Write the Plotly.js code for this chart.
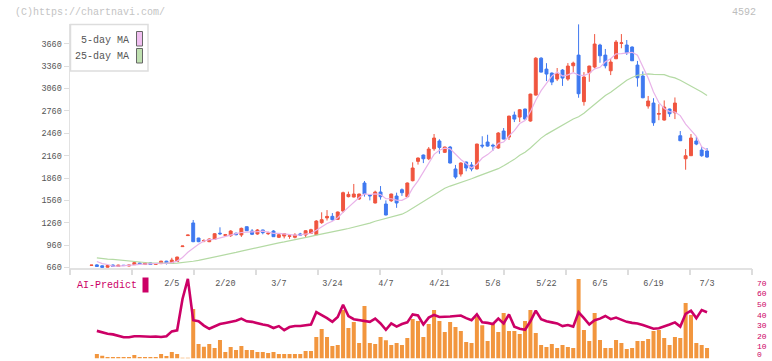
<!DOCTYPE html>
<html><head><meta charset="utf-8">
<script src="https://cdn.plot.ly/plotly-3.0.1.min.js"></script>
<style>html,body{margin:0;padding:0;background:#fff;}#chart{width:772px;height:361px;}</style>
</head><body><div id="chart"></div>
<script>
const dates = ["1/15","1/16","1/17","1/20","1/21","1/22","1/23","1/24","1/27","1/28","1/29","1/30","1/31","2/3","2/4","2/5","2/6","2/7","2/10","2/12","2/13","2/14","2/17","2/18","2/19","2/20","2/21","2/25","2/26","2/27","2/28","3/3","3/4","3/5","3/6","3/7","3/10","3/11","3/12","3/13","3/14","3/17","3/18","3/19","3/21","3/24","3/25","3/26","3/27","3/28","3/31","4/1","4/2","4/3","4/4","4/7","4/8","4/9","4/10","4/11","4/14","4/15","4/16","4/17","4/18","4/21","4/22","4/23","4/24","4/25","4/28","4/30","5/1","5/2","5/7","5/8","5/9","5/12","5/13","5/14","5/15","5/16","5/19","5/20","5/21","5/22","5/23","5/26","5/27","5/28","5/29","5/30","6/2","6/3","6/4","6/5","6/6","6/9","6/10","6/11","6/12","6/13","6/16","6/17","6/18","6/19","6/20","6/23","6/24","6/25","6/26","6/27","6/30","7/1","7/2","7/3"];

const open = [688,695,683,664,693,674,690,680,698,720,
700,722,703,712,745,715,740,940,1088,1257,
1055,1015,1006,1038,1120,1090,1086,1118,1096,1207,
1149,1109,1163,1113,1149,1065,1082,1078,1065,1110,
1096,1118,1100,1261,1325,1346,1306,1417,1610,1605,
1580,1793,1632,1525,1672,1511,1555,1618,1703,1609,
1824,2083,2168,2118,2252,2356,2204,2275,1981,1913,
2074,2034,1981,2300,2342,2300,2262,2490,2409,2704,
2677,2785,2624,2972,3467,3320,3267,3187,3307,3187,
3365,3508,2884,3271,3348,3643,3508,3298,3459,3665,
3643,3616,3374,3227,2825,2865,2715,2637,2785,2735,
2427,2118,2159,2356,2235,2222];
const high = [694,705,688,690,700,697,694,697,730,726,
728,727,712,750,750,790,805,950,1098,1297,
1058,1039,1050,1120,1199,1110,1160,1130,1195,1210,
1175,1175,1167,1140,1160,1105,1118,1090,1120,1125,
1160,1180,1295,1400,1430,1390,1410,1677,1677,1780,
1650,1820,1645,1690,1752,1560,1650,1663,1720,1800,
2070,2135,2175,2275,2450,2380,2280,2290,2035,2070,
2080,2074,2320,2420,2440,2320,2475,2530,2695,2750,
2785,2790,2990,3480,3480,3400,3275,3335,3320,3401,
3420,3920,3280,3365,3790,3660,3590,3460,3710,3790,
3710,3625,3430,3290,2960,2930,2850,2900,2790,2940,
2490,2248,2450,2410,2275,2262];
const low = [686,668,655,660,672,670,682,676,695,706,
697,696,699,706,700,710,735,938,1085,1000,
1000,999,1000,1030,1095,1080,1070,1090,1070,1150,
1095,1100,1105,1095,1070,1055,1050,1045,1050,1090,
1060,1110,1095,1245,1290,1290,1300,1395,1600,1600,
1565,1610,1560,1520,1570,1360,1540,1460,1620,1600,
1815,2040,2060,2100,2225,2185,2195,2055,1850,1880,
1950,1950,1975,2260,2280,2225,2250,2378,2370,2610,
2610,2645,2615,2965,3275,3160,3105,3160,3095,3164,
3280,2936,2830,3150,3330,3405,3330,3240,3455,3600,
3510,3430,3085,2930,2790,2560,2635,2630,2680,2650,
2355,1971,2155,2300,2145,2132];
const close = [692,675,662,686,676,692,686,692,725,710,
722,700,708,745,715,760,800,948,1095,1006,
1006,1022,1042,1113,1113,1100,1149,1100,1185,1153,
1105,1163,1127,1120,1073,1100,1113,1085,1096,1095,
1153,1167,1283,1301,1345,1301,1404,1663,1640,1645,
1645,1645,1622,1672,1609,1364,1645,1525,1663,1793,
1994,2128,2118,2248,2396,2270,2275,2061,1873,2061,
1994,1981,2315,2290,2288,2290,2463,2382,2690,2650,
2775,2650,2985,3467,3280,3254,3146,3254,3200,3361,
3401,2990,3214,3361,3656,3499,3365,3415,3683,3672,
3539,3432,3204,2936,2892,2601,2725,2811,2722,2865,
2360,2159,2396,2315,2159,2141];
const ma5 = [null,740,712,700,678,678,680,686,694,701,
707,710,713,717,720,726,746,794,864,922,
971,1015,1034,1038,1059,1078,1103,1115,1129,1137,
1138,1141,1147,1134,1118,1117,1107,1098,1093,1098,
1108,1119,1159,1200,1250,1279,1327,1403,1471,1531,
1599,1648,1639,1646,1639,1582,1582,1563,1561,1598,
1724,1821,1939,2056,2177,2232,2261,2250,2175,2108,
2053,1994,2045,2128,2174,2233,2325,2343,2423,2495,
2590,2629,2750,2903,3031,3127,3226,3280,3227,3243,
3272,3241,3233,3265,3324,3344,3419,3459,3524,3527,
3535,3545,3506,3357,3200,3013,2872,2793,2750,2745,
2697,2583,2500,2419,2278,2234];
const ma25 = [null,790,778,772,768,760,754,745,738,732,
727,723,720,718,717,716,718,724,733,744,
756,770,785,800,815,830,845,862,880,897,
913,930,946,960,975,990,1003,1016,1030,1045,
1060,1078,1093,1106,1120,1133,1150,1167,1183,1200,
1218,1238,1256,1280,1300,1318,1335,1352,1375,1410,
1455,1505,1550,1595,1638,1680,1722,1752,1775,1800,
1828,1850,1878,1905,1932,1958,1985,2025,2065,2110,
2165,2205,2262,2335,2395,2445,2488,2532,2570,2608,
2652,2682,2728,2788,2850,2910,2966,3010,3066,3120,
3170,3208,3238,3248,3255,3250,3252,3245,3220,3203,
3170,3130,3095,3060,3012,2966];
const volume = [null,4.2,2.7,1.4,1.4,1.4,1.4,1.4,3.3,1.4,
1.4,1.4,1.4,4.2,2.4,6.1,4.2,0.6,0.6,46.6,
13.6,11.1,13.6,9.9,17.4,6.1,10.8,8.0,11.8,8.0,
8.0,6.1,6.1,5.2,6.1,4.2,4.2,4.2,4.2,4.2,
7.1,7.1,20.2,27.8,20.2,11.8,12.7,45.6,28.7,34.3,
14.6,49.4,14.6,13.6,20.2,17.1,12.7,14.6,12.7,19.3,
37.2,35.3,20.2,32.4,45.6,35.3,24.9,34.3,29.6,25.8,
15.5,14.6,39.0,31.4,16.4,32.4,24.9,42.8,25.8,25.8,
23.0,35.3,45.6,24.0,12.7,10.8,13.6,9.9,12.7,10.8,
9.9,74.8,26.8,16.4,42.8,17.4,9.9,9.9,17.4,14.6,
8.9,9.9,16.4,16.4,18.3,25.8,26.8,19.3,12.7,20.2,
19.3,52.2,40.9,14.6,12.7,9.9];
const aiPredict = [null,26,24.5,23.3,22.7,21.5,20,20,20.9,20.9,
20.5,20.5,20.7,20.2,21,25.5,26.5,56,75,36,
35,31,28,30,32.5,33.5,34.5,35.5,37.5,35,
34.5,33,32,31,28.7,30.5,26.6,29.6,30.6,30.6,
31,32,43.6,41,38,34.5,39,50.6,40,37,
36.2,35.5,34.5,37.5,33,27,33,30,32.5,34,
41.5,40.5,32,38.5,41,39,39,39.5,40,40.5,
38,36,41.5,34,33.5,32.5,37.5,33,41.5,30,
28,27,35,45,37,35,34,33,30.5,31.5,
30,43.5,38,32,36,37.5,40,37,38.5,36.5,
34.5,33.5,33,31.5,30,28,28.5,30,32,34,
30,42,45,38,45.5,43.5];

const priceTicks = [660,960,1260,1560,1860,2160,2460,2760,3060,3360,3660];
const aiTicks = [0,10,20,30,40,50,60,70];
const dateTicks = ["2/5","2/20","3/7","3/24","4/7","4/21","5/8","5/22","6/5","6/19","7/3"];
const gridSteps = [0,1,2,3,4,5,6,7,8,9,10,11];

const W = 772, H = 361;
const RED = '#f0553f', BLUE = '#3f79f0', ORANGE = '#f2963e', CRIMSON = '#cc0066';
const PINK = '#e9b3e9', GREEN = '#b4daa4';
const FONT = 'Liberation Mono, DejaVu Sans Mono, monospace';
const px = v => v / W, py = v => 1 - v / H;
const xDom = [px(70), px(752)];

const traces = [
  {type:'candlestick', x:dates, open:open, high:high, low:low, close:close,
   xaxis:'x', yaxis:'y', whiskerwidth:0, hoverinfo:'skip', showlegend:false,
   increasing:{line:{color:RED, width:1}, fillcolor:RED},
   decreasing:{line:{color:BLUE, width:1}, fillcolor:BLUE}},
  {type:'scatter', mode:'lines', x:dates, y:ma25, xaxis:'x', yaxis:'y',
   line:{color:GREEN, width:1.2}, hoverinfo:'skip', showlegend:false},
  {type:'scatter', mode:'lines', x:dates, y:ma5, xaxis:'x', yaxis:'y',
   line:{color:PINK, width:1.2}, hoverinfo:'skip', showlegend:false},
  {type:'bar', x:dates, y:volume, xaxis:'x2', yaxis:'y2',
   marker:{color:ORANGE, line:{width:0}}, hoverinfo:'skip', showlegend:false},
  {type:'scatter', mode:'lines', x:dates, y:aiPredict, xaxis:'x2', yaxis:'y2',
   line:{color:CRIMSON, width:2.6}, hoverinfo:'skip', showlegend:false},
  {type:'scatter', mode:'markers', x:[], y:[], xaxis:'x3', yaxis:'y', showlegend:false, hoverinfo:'skip'}
];

// right-hand scale labels of the AI panel, placed on the y2 scale
const aiLabels = aiTicks.map(v => ({
  text:String(v), xref:'paper', yref:'y2', x:px(754.5), y:v,
  xanchor:'left', yanchor:'middle', showarrow:false,
  yshift: v === 0 ? 4.5 : 1, font:{family:FONT, size:8, color:CRIMSON}
}));

const layout = {
  width:W, height:H, margin:{l:0, r:0, t:0, b:0},
  paper_bgcolor:'#ffffff', plot_bgcolor:'rgba(0,0,0,0)',
  showlegend:false, hovermode:false, boxgap:0.22, bargap:0.25,
  font:{family:FONT, color:'#555'},
  xaxis:{type:'category', domain:xDom, anchor:'y', range:[-4.02, 123.4],
    rangeslider:{visible:false}, showgrid:false, zeroline:false,
    showline:true, linecolor:'#e2e2e2', linewidth:2, ticks:'',
    tickmode:'array', tickvals:dateTicks, ticktext:dateTicks,
    tickfont:{family:FONT, size:8.5, color:'#555'}, ticklabelstandoff:6, fixedrange:true},
  yaxis:{domain:[py(268), py(24)], anchor:'x', range:[653.3, 3925],
    tickmode:'array', tickvals:priceTicks, ticktext:priceTicks.map(String),
    ticks:'outside', ticklen:5, tickcolor:'#dddddd', tickwidth:1,
    showline:true, linecolor:'#e2e2e2', linewidth:1.5,
    showgrid:false, zeroline:false, tickfont:{family:FONT, size:8.5, color:'#555'}, fixedrange:true},
  xaxis2:{type:'category', matches:'x', domain:xDom, anchor:'y2',
    showticklabels:false, showline:false, ticks:'', showgrid:false, zeroline:false,
    rangeslider:{visible:false}},
  yaxis2:{domain:[py(358.5), py(277)], anchor:'x2', side:'right', range:[0, 76.7],
    showticklabels:false, ticks:'', showline:false, showgrid:false, zeroline:false, fixedrange:true},
  xaxis3:{overlaying:'x', anchor:'y', domain:xDom, range:[0, 11],
    tickmode:'array', tickvals:gridSteps, ticks:'outside', ticklen:6, tickwidth:1.5,
    tickcolor:'#dddddd', showticklabels:false, showline:false, showgrid:false, zeroline:false},
  shapes:[
    {type:'rect', xref:'paper', yref:'paper', x0:px(70.5), x1:px(148), y0:py(71), y1:py(24.5),
     line:{color:'#dddddd', width:1.5}, fillcolor:'#ffffff', layer:'above'},
    {type:'rect', xref:'paper', yref:'paper', x0:px(136.5), x1:px(142.5), y0:py(46), y1:py(31.5),
     line:{color:'#666', width:1}, fillcolor:'#f0bff0', layer:'above'},
    {type:'rect', xref:'paper', yref:'paper', x0:px(136.5), x1:px(142.5), y0:py(63), y1:py(48.5),
     line:{color:'#666', width:1}, fillcolor:'#bfe0b0', layer:'above'},
    {type:'rect', xref:'paper', yref:'paper', x0:px(142.5), x1:px(148.5), y0:py(292.5), y1:py(277.5),
     line:{width:0}, fillcolor:CRIMSON, layer:'above'}
  ],
  annotations:[
    {text:'(C)https://chartnavi.com/', xref:'paper', yref:'paper', x:px(13), y:py(12.5),
     xanchor:'left', yanchor:'middle', showarrow:false, font:{family:FONT, size:10, color:'#c4c4c4'}},
    {text:'4592', xref:'paper', yref:'paper', x:px(758), y:py(12.5),
     xanchor:'right', yanchor:'middle', showarrow:false, font:{family:FONT, size:10, color:'#bdbdbd'}},
    {text:'5-day MA', xref:'paper', yref:'paper', x:px(131), y:py(40),
     xanchor:'right', yanchor:'middle', showarrow:false, font:{family:FONT, size:10, color:'#555'}},
    {text:'25-day MA', xref:'paper', yref:'paper', x:px(131), y:py(56.5),
     xanchor:'right', yanchor:'middle', showarrow:false, font:{family:FONT, size:10, color:'#555'}},
    {text:'AI-Predict', xref:'paper', yref:'paper', x:px(75), y:py(285.5),
     xanchor:'left', yanchor:'middle', showarrow:false, font:{family:FONT, size:10, color:CRIMSON}}
  ].concat(aiLabels)
};

Plotly.newPlot('chart', traces, layout, {staticPlot:true, displayModeBar:false});
</script>
</body></html>
